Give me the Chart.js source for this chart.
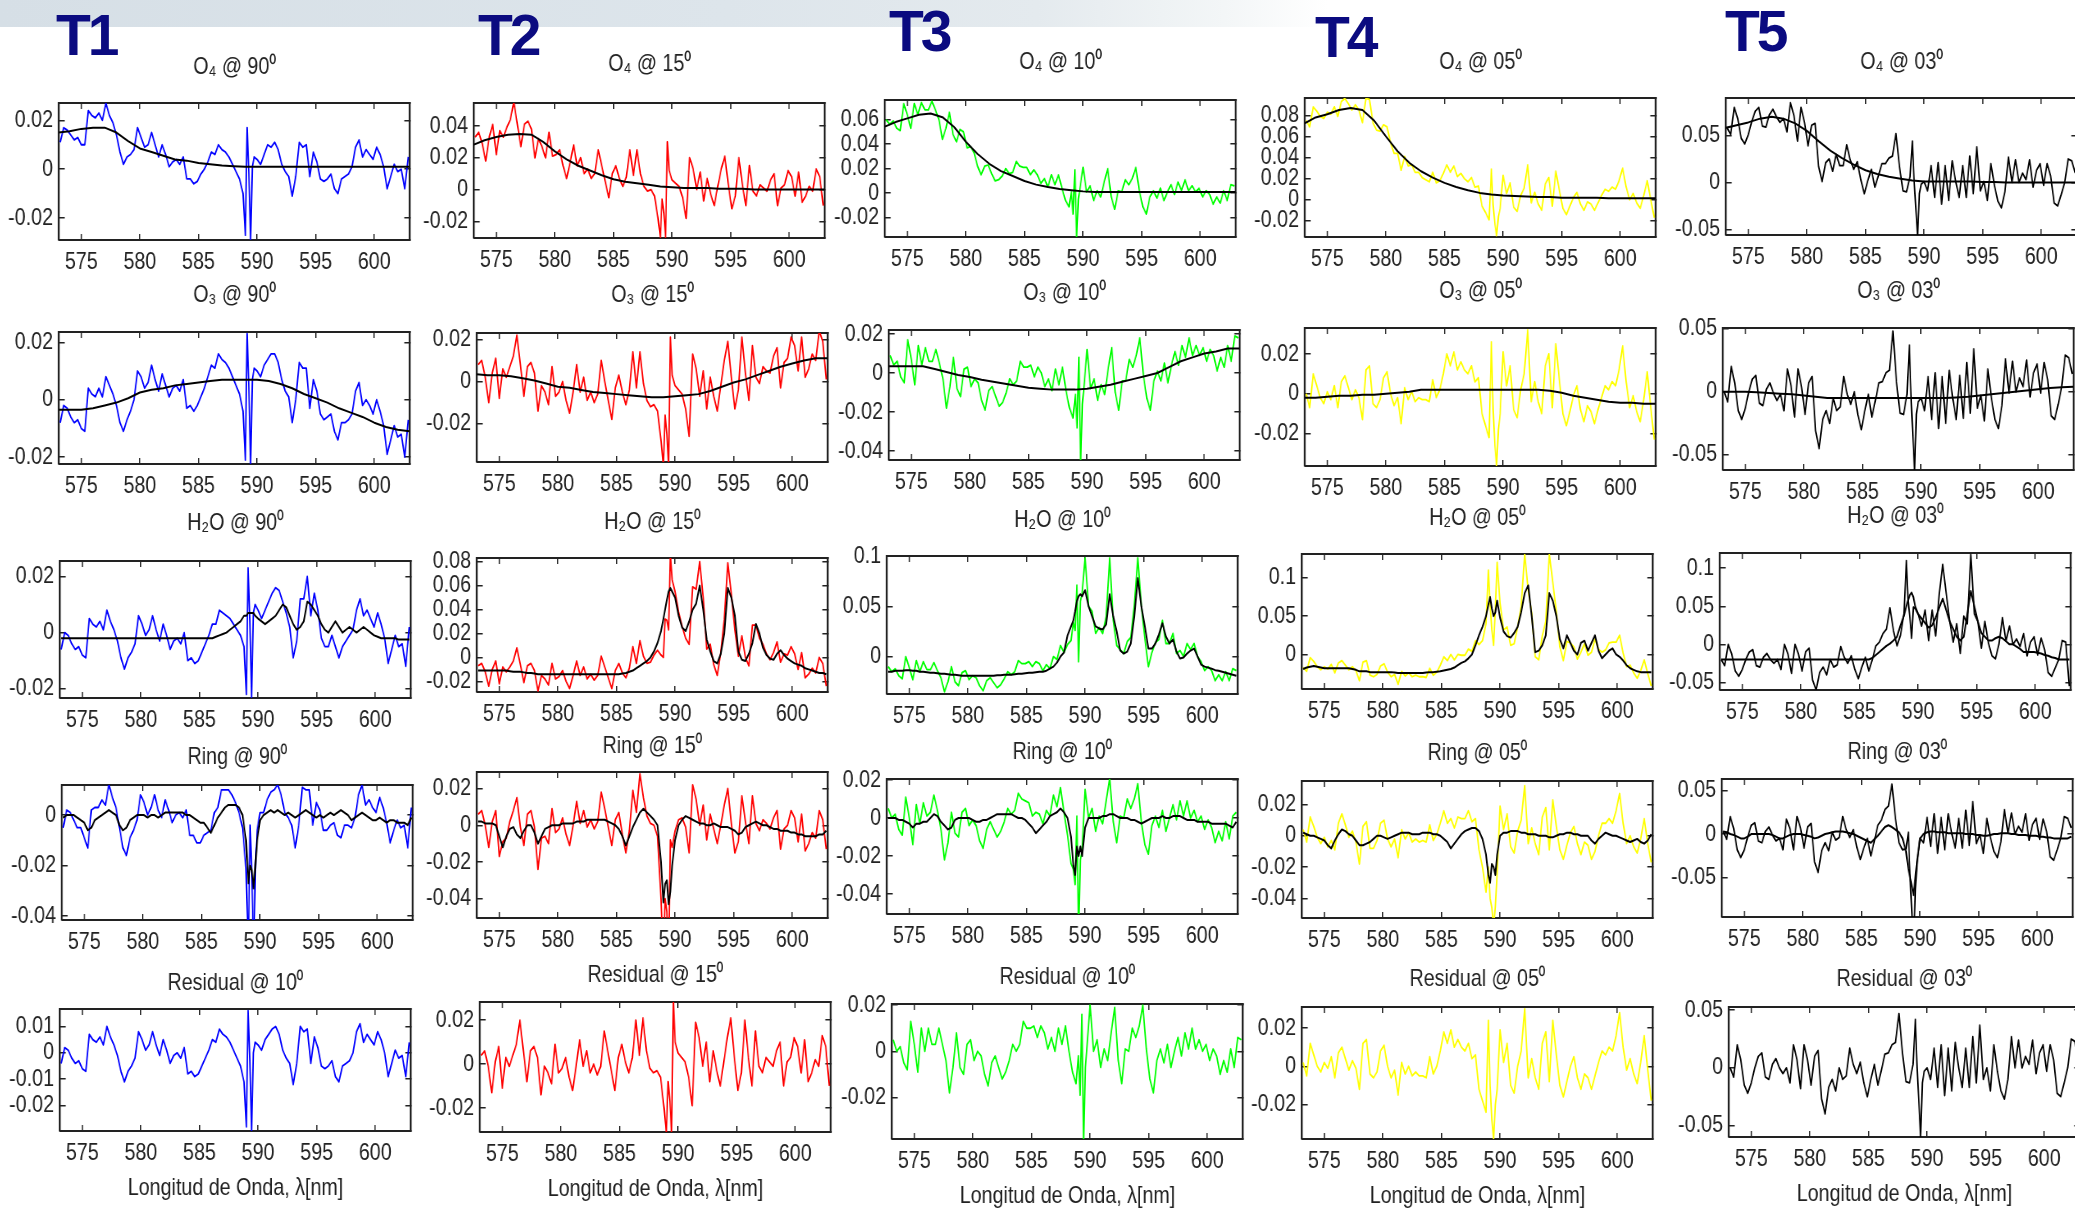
<!DOCTYPE html>
<html>
<head>
<meta charset="utf-8">
<script src="https://cdn.jsdelivr.net/npm/chart.js@4.4.1/dist/chart.umd.min.js"></script>
<style>
  html, body { margin: 0; padding: 0; background: #fff; }
  body { width: 2075px; height: 1209px; overflow: hidden; position: relative; }
  #band { position: absolute; left: 0; top: 0; width: 2075px; height: 27px;
    background: linear-gradient(90deg, #d6dfe6 0%, #dde5eb 35%, #e4eaee 50%, #f3f6f7 59%, #ffffff 64%); }
  .tag { position: absolute; font: bold 57px 'Liberation Sans', Arial, sans-serif; letter-spacing: -3px;
    color: #0b0b80; line-height: 57px; }
  canvas { position: absolute; transform-origin: 0 0; }
</style>
</head>
<body>
<div id="band"></div>
<div class="tag" style="left:56px;top:7px">T1</div>
<div class="tag" style="left:478px;top:7px">T2</div>
<div class="tag" style="left:889px;top:3px">T3</div>
<div class="tag" style="left:1315px;top:9px">T4</div>
<div class="tag" style="left:1725px;top:3px">T5</div>
<script>
// wavelength grid (nm) of the measured spectra, and of the smooth fits
const wl = [573.2,573.5,573.8,574.1,574.4,574.7,575.0,575.3,575.6,575.9,
  576.2,576.5,576.8,577.1,577.4,577.7,578.0,578.3,578.6,578.9,
  579.2,579.5,579.8,580.1,580.4,580.7,581.0,581.3,581.6,581.9,
  582.2,582.5,582.8,583.1,583.4,583.7,584.0,584.3,584.6,584.9,
  585.2,585.5,585.8,586.1,586.4,586.7,587.0,587.3,587.6,587.9,
  588.2,588.5,588.8,589.0,589.15,589.3,589.45,589.6,589.75,
  590.0,590.3,590.6,590.9,591.2,591.5,591.8,592.1,592.4,592.7,
  593.0,593.3,593.6,593.9,594.2,594.5,594.8,595.1,595.4,595.7,
  596.0,596.3,596.6,596.9,597.2,597.5,597.8,598.1,598.4,598.7,
  599.0,599.3,599.6,599.9,600.2,600.5,600.8,601.1,601.4,601.7,
  602.0,602.3,602.6,602.9];
const wlFit = [573,574,575,576,577,578,579,580,581,582,583,584,585,586,587,588,589,590,
  591,592,593,594,595,596,597,598,599,600,601,602,603];

const xTicks = [575, 580, 585, 590, 595, 600];
const xTickLabels = ['575', '580', '585', '590', '595', '600'];
// optical depth values are kept in units of 1e-3
const yTickValues = [-50, -40, -20, -10, 0, 10, 20, 40, 50, 60, 80, 100];
const yTickLabels = ['-0.05', '-0.04', '-0.02', '-0.01', '0', '0.01', '0.02', '0.04', '0.05', '0.06', '0.08', '0.1'];

/* T1 (90 deg) */
const t1Resid = [-4,2,1,-2,-4,-3,-6,-7,7,5,
  4,6,3,10,6,3,-1,-7,-11,-7,
  -5,-2,8,5,1,3,8,3,-1,5,
  1,-4,-1,0,-2,2,-8,-7,-9,-8,
  -5,-2,1,5,4,9,7,6,4,1,
  -2,-5,-11,-28,16,-3,-30,0,4,
  3,1,5,7,9,10,7,1,-2,-4,
  -12,-4,10,8,9,-4,6,2,-5,-6,
  -5,-3,-9,-11,-5,-4,-3,0,8,11,
  4,7,5,3,8,5,0,-9,-4,1,
  -2,-1,-9,4];
const t1O4 = [11,17,16,14,12,13,10,10,24,22,
  21,23,20,27,22,19,14,7,2,5,
  6,8,17,13,9,10,15,10,5,10,
  6,1,3,4,2,5,-4,-4,-6,-5,
  -2,0,3,7,6,10,8,7,5,2,
  -1,-4,-10,-27,17,-2,-29,1,5,
  4,2,6,10,9,11,8,2,-1,-3,
  -11,-3,11,9,10,-3,7,3,-4,-5,
  -4,-2,-8,-10,-4,-3,-2,1,9,12,
  5,8,6,4,9,6,1,-8,-3,2,
  -1,0,-8,5];
const t1O4Fit = [15,15.5,16.5,17,17,15,11.5,8.5,7,5.5,4,3.5,2.5,2,1.5,1.2,1,
  1,1,1,1,1,1,1,1,1,1,1,1,1,1];
const t1O3 = [-8,-2,-3,-6,-8,-7,-10,-11,4,2,
  1,4,1,8,5,2,-2,-8,-11,-7,
  -4,0,10,8,4,6,12,7,3,9,
  5,1,4,5,3,7,-3,-2,-4,-2,
  1,4,8,12,11,16,14,13,11,8,
  5,2,-4,-21,23,4,-23,7,11,
  10,8,12,14,16,16,13,7,3,1,
  -8,0,13,11,11,-3,7,3,-5,-7,
  -6,-5,-11,-14,-8,-8,-7,-5,3,6,
  -2,0,-2,-5,0,-4,-9,-19,-14,-9,
  -13,-12,-20,-7];
const t1O3Fit = [-3.5,-3.5,-3.5,-3,-2,-1,0.5,2.5,3.5,4,5,5.5,6,6.5,7,7,7,7,6.5,5.5,
  4,2,0.5,-1,-3,-4.5,-6,-8,-9.5,-10.5,-11];
const t1H2o = [-6,0,-1,-4,-6,-5,-8,-9,5,3,
  2,4,1,8,4,1,-3,-9,-13,-9,
  -7,-4,6,3,-1,1,6,1,-3,3,
  -1,-6,-3,-2,-4,0,-10,-9,-11,-10,
  -7,-4,-1,3,3,8,7,6,5,3,
  1,-1,-5,-22,23,4,-23,7,10,
  8,5,8,11,14,16,15,11,7,2,
  -9,-3,12,12,20,6,14,8,-2,-5,
  -5,-1,-5,-9,-5,-3,-1,1,8,12,
  6,8,5,2,7,3,-2,-11,-6,-1,
  -5,-4,-12,2];
const t1H2oFit = [-2,-2,-2,-2,-2,-2,-2,-2,-2,-2,
  -2,-2,-2,-2,-2,-2,-2,-2,-2,-2,
  -2,-2,-2,-2,-2,-2,-2,-2,-2,-2,
  -2,-2,-2,-2,-2,-2,-2,-2,-2,-2,
  -2,-2,-2,-2,-1.5,-1,-0.5,0,1,2,
  3,4,6,6,7,7,7,7,6,
  5,4,3,4,5,6,8,10,9,6,
  3,1,2,4,11,10,8,6,3,1,
  0,2,4,2,0,1,2,1,0,1,
  2,1,0,-1,-1.5,-2,-2,-2,-2,-2,
  -2.5,-2.5,-2.5,-2.5];
const t1Ring = [-5,2,1,-2,-5,-5,-9,-13,2,3,
  3,6,4,12,7,3,-5,-13,-16,-9,
  -6,-2,8,5,0,3,8,2,-1,6,
  2,-3,0,1,-1,2,-8,-8,-11,-11,
  -8,-7,-6,1,3,10,10,10,8,5,
  1,-5,-21,-55,-4,-25,-59,-20,-6,
  1,1,6,9,10,12,8,1,-1,-4,
  -13,-4,11,10,10,-4,5,2,-6,-6,
  -4,-3,-8,-9,-4,-4,-5,-1,8,12,
  4,6,3,1,7,3,-3,-11,-6,-2,
  -5,-4,-13,3];
const t1RingFit = [-1,0,0,0,-1,-2,-3,-6,-5,-2,
  -1,0,1,2,1,0,-4,-6,-5,-2,
  -1,0,0,0,-1,0,0,-1,0,1,
  1,1,1,1,1,0,0,-1,-2,-3,
  -3,-5,-7,-4,-1,1,3,4,4,4,
  3,0,-10,-27,-20,-22,-29,-20,-10,
  -2,0,1,2,1,2,1,0,1,0,
  -1,0,1,2,1,0,-1,0,-1,0,
  1,0,1,2,1,0,-2,-1,0,1,
  0,-1,-2,-2,-1,-2,-3,-2,-2,-3,
  -3,-3,-4,-1];

/* T2 (15 deg) */
const t2Resid = [4,6,-1,-13,1,8,-11,3,-1,4,
  9,20,6,-8,6,8,3,-14,-1,-4,
  -9,9,-4,-2,3,-6,-12,-1,11,-1,
  6,-4,0,-5,-1,15,6,-3,-12,3,
  9,1,-4,3,20,4,21,6,-2,-4,
  -3,-6,-20,-32,-8,-17,-32,28,10,
  5,3,1,-6,-19,19,12,-1,10,-8,
  6,-3,-10,1,12,21,3,-12,-4,20,
  3,-10,15,-1,-4,3,1,-1,6,10,
  -10,1,3,12,8,-4,11,-8,-4,2,
  -1,13,8,-10];
const t2O4 = [33,36,29,18,33,41,22,37,33,39,
  44,55,41,27,41,43,38,20,32,27,
  20,36,21,22,25,15,7,17,28,15,
  20,10,13,7,10,25,15,5,-5,10,
  15,7,2,8,25,9,25,10,2,-1,
  0,-4,-18,-30,-6,-15,-30,30,12,
  6,4,2,-5,-18,20,13,0,11,-7,
  7,-3,-10,2,13,21,3,-12,-4,20,
  3,-10,15,-1,-4,3,1,-1,6,10,
  -10,1,3,12,8,-4,11,-8,-4,2,
  -1,13,8,-10];
const t2O4Fit = [28,31,33,34.5,35,34.5,30,24,19,15,12,9,6.5,5,4,3,2,
  1.5,1,1,1,0.5,0.5,0.5,0,0,0,0,0,0,0];
const t2O3 = [8,10,2,-10,4,11,-8,6,2,7,
  12,22,8,-7,7,9,4,-14,-2,-5,
  -11,7,-7,-5,0,-9,-15,-5,8,-5,
  2,-9,-5,-10,-6,10,0,-9,-18,-3,
  3,-5,-11,-4,14,-3,14,-1,-9,-12,
  -11,-14,-28,-40,-16,-25,-40,21,3,
  -2,-4,-6,-13,-26,13,6,-7,5,-13,
  2,-7,-14,-2,10,19,2,-13,-4,21,
  4,-9,17,2,-1,7,5,4,12,16,
  -3,9,11,21,17,5,21,2,6,13,
  10,24,19,1];
const t2O3Fit = [3.5,3,3,2.5,1.5,0.5,-1,-2.5,-3,-4,-5,-5.5,-6,-6.5,-7,-7.5,-7.5,-7,-6.5,-6,
  -4.5,-2.5,-0.5,1,3,5,7,8.5,10,11,11];
const t2H2o = [-7,-5,-12,-24,-10,-3,-22,-8,-12,-8,
  -3,8,-6,-21,-7,-5,-11,-28,-15,-18,
  -23,-5,-18,-16,-11,-20,-26,-15,-3,-15,
  -8,-18,-14,-19,-15,1,-8,-17,-26,-11,
  -5,-13,-17,-9,9,-5,14,1,-5,-4,
  2,6,2,0,32,31,23,86,65,
  55,38,26,16,11,59,57,80,50,7,
  11,-6,-15,4,32,79,53,23,1,18,
  0,-7,27,27,16,11,3,-2,4,13,
  -4,3,2,9,3,-10,4,-17,-14,-9,
  -13,0,-5,-24];
const t2H2oFit = [-11,-11,-11,-11,-11,-11,-11,-11,-11,-11.5,
  -12,-12,-12,-12.5,-13,-13,-13.5,-14,-14,-14,
  -14,-14,-14,-14,-14,-14,-14,-14,-14,-14,
  -14,-14,-14,-14,-14,-14,-14,-14,-14,-14,
  -14,-13.5,-13,-12,-11,-9,-7,-5,-3,0,
  5,12,22,32,40,48,55,58,55,
  50,35,25,22,30,40,45,60,40,15,
  5,-3,-5,3,20,58,50,35,5,-2,
  -3,3,12,28,20,8,2,-1,-2,3,
  6,2,-1,-3,-5,-6,-7,-9,-10,-11,
  -12,-13,-13,-14];
const t2Ring = [6,8,0,-12,2,8,-17,-9,-7,2,
  8,15,-1,-11,6,8,-1,-24,-7,-6,
  -10,9,-4,-2,4,-5,-11,0,13,1,
  8,-1,3,-2,2,18,9,-1,-11,3,
  7,-5,-15,-3,19,7,28,15,5,1,
  0,-6,-40,-74,-40,-47,-75,-8,-12,
  -3,3,4,-1,-15,22,14,0,11,-8,
  6,-2,-10,0,11,20,1,-15,-9,16,
  2,-10,16,1,-3,3,1,-2,4,8,
  -13,-2,0,8,4,-9,6,-14,-10,-4,
  -7,8,3,-13];
const t2RingFit = [2,2,1,1,1,0,-6,-12,-6,-2,
  -1,-5,-7,-3,0,0,-4,-10,-6,-2,
  -1,0,0,0,1,1,1,1,2,2,
  2,3,3,3,3,3,3,2,1,0,
  -2,-6,-11,-6,-1,3,7,9,7,5,
  3,0,-20,-42,-32,-30,-43,-36,-22,
  -8,0,3,5,4,3,2,1,1,0,
  0,1,0,-1,-1,-1,-2,-3,-5,-4,
  -1,0,1,2,1,0,0,-1,-2,-2,
  -3,-3,-3,-4,-4,-5,-5,-6,-6,-6,
  -6,-5,-5,-3];

/* T3 (10 deg) */
const t3Resid = [5,0,2,-5,-8,13,3,-9,10,0,
  10,3,3,10,3,-4,-18,-7,8,-7,
  -10,3,5,-4,0,-2,-10,-15,-5,-2,
  -7,-12,-9,-4,3,0,3,13,10,10,
  11,6,11,8,1,6,0,10,3,11,
  0,-9,-14,-2,-19,16,-40,-7,3,
  20,0,5,-7,1,-4,8,19,-4,-14,
  1,0,10,6,11,20,1,-12,-18,-4,
  1,-5,3,-7,0,6,-2,8,1,10,
  1,5,0,3,-4,1,-2,-10,-4,-9,
  1,-7,6,5];
const t3O4 = [60,56,59,53,51,73,64,53,73,64,
  74,68,68,75,68,60,44,53,66,48,
  42,52,50,37,38,33,22,15,22,23,
  16,10,11,14,20,16,17,26,22,21,
  21,15,19,15,8,12,5,15,7,15,
  4,-6,-11,1,-17,19,-38,-5,5,
  21,1,6,-6,2,-3,9,20,-3,-13,
  2,1,11,7,12,21,2,-11,-17,-3,
  2,-4,4,-6,1,7,-1,9,2,11,
  2,6,1,4,-3,2,-1,-9,-3,-8,
  2,-6,7,6];
const t3O4Fit = [54,58,61,64,65,62,54,42,32,24,18,14,10,7,5,3.5,2.5,1.5,
  1,1,1,1,1,1,1,1,1,1,1,1,1];
const t3O3 = [9,4,6,-2,-5,17,7,-6,14,4,
  13,6,6,12,5,-3,-18,-7,8,-8,
  -12,2,3,-7,-3,-5,-14,-19,-9,-7,
  -12,-17,-15,-10,-3,-6,-4,6,3,3,
  4,-2,3,0,-7,-3,-9,2,-6,3,
  -9,-18,-23,-11,-28,8,-49,-16,-6,
  12,-8,-3,-14,-6,-11,2,13,-10,-19,
  -4,-4,7,3,9,18,-1,-13,-19,-4,
  1,-4,5,-5,4,11,4,14,8,18,
  9,14,9,13,6,12,9,1,8,3,
  14,6,19,18];
const t3O3Fit = [3.5,3.5,3.5,3.5,2,0.5,-1,-2,-3.5,-4.5,-5.5,-6.5,-7.5,-8,-8.5,-8.5,-8.5,-8,-7,-6,
  -4.5,-3,-1.5,0,3,6,8,10,11,12.5,12.5];
const t3H2o = [-10,-15,-12,-19,-22,0,-11,-23,-4,-15,
  -5,-13,-13,-6,-14,-21,-35,-25,-10,-25,
  -29,-16,-14,-23,-19,-21,-29,-34,-24,-21,
  -26,-31,-28,-22,-15,-18,-15,-4,-7,-7,
  -5,-10,-5,-7,-14,-8,-12,0,-3,11,
  4,12,16,34,26,71,-5,55,63,
  98,50,45,23,29,23,40,98,36,11,
  7,3,15,19,51,98,51,18,-10,4,
  14,17,36,13,13,23,3,6,0,13,
  7,13,0,-5,-14,-10,-14,-24,-18,-24,
  -15,-24,-12,-14];
const t3H2oFit = [-15,-15,-14,-14,-14,-13.5,-13.5,-14,-14,-15,
  -15,-15.5,-16,-16,-16.5,-17,-17,-17.5,-18,-18,
  -18.5,-19,-19,-19,-19,-19,-19,-19,-19,-19,
  -19,-18.5,-18.5,-18,-18,-18,-17.5,-17,-17,-16.5,
  -16,-16,-15.5,-15,-15,-14,-12,-10,-6,0,
  4,21,30,36,45,55,60,62,60,
  66,50,40,30,28,27,32,62,40,25,
  6,3,5,13,40,78,50,30,8,8,
  13,22,33,20,13,17,5,-2,-1,3,
  6,8,0,-8,-10,-11,-12,-13.5,-14,-15,
  -16,-17,-18,-19];
const t3Ring = [5,0,2,-6,-9,11,0,-14,7,-3,
  8,1,3,12,4,-6,-22,-13,3,-8,
  -10,3,5,-4,-1,-4,-12,-16,-6,-2,
  -6,-10,-7,-2,5,2,4,13,10,9,
  8,1,3,2,-3,4,1,12,6,16,
  3,-9,-24,-27,-35,1,-60,-22,-17,
  15,0,5,-7,1,-3,9,21,-2,-13,
  1,0,10,5,10,18,-2,-14,-19,-4,
  1,-5,4,-7,0,7,-1,9,1,9,
  0,4,-2,1,-6,-1,-5,-13,-7,-12,
  -2,-11,1,3];
const t3RingFit = [0,0,0,-1,-1,-2,-3,-5,-3,-3,
  -2,-2,0,2,1,-2,-4,-6,-5,-1,
  0,0,0,0,-1,-2,-2,-1,-1,0,
  1,2,2,2,2,2,1,0,0,-1,
  -3,-5,-8,-6,-4,-2,1,2,3,5,
  3,0,-10,-25,-30,-15,-20,-15,-20,
  -5,0,0,0,0,1,1,2,2,1,
  0,0,0,-1,-1,-2,-3,-2,-1,0,
  0,0,1,0,0,1,1,1,0,-1,
  -1,-1,-2,-2,-2,-2,-3,-3,-3,-3,
  -3,-4,-5,-2];

/* T4 (05 deg) */
const t4Resid = [2,-5,12,6,0,-3,2,-1,5,-6,
  7,10,4,-2,3,-1,-12,12,14,-4,
  -6,-3,8,11,0,-6,-2,-15,2,-4,
  0,-5,-3,-5,-5,-6,5,-4,0,8,
  18,12,19,10,14,10,8,12,4,6,
  -12,-18,-24,24,-10,-28,-38,-20,-12,
  19,2,12,-10,-14,0,8,30,-6,4,
  -6,-12,12,18,-8,24,6,-10,-16,-8,
  0,5,-6,-12,-4,-6,-12,-5,2,8,
  6,10,8,16,28,10,-2,4,-4,-9,
  2,16,-2,-18];
const t4O4 = [75,69,88,84,79,77,83,81,88,79,
  93,96,91,85,90,85,73,96,95,73,
  66,65,71,69,54,44,44,28,41,32,
  33,26,26,21,19,17,26,16,18,25,
  33,26,32,22,25,20,17,21,12,13,
  -6,-12,-19,29,-5,-23,-34,-16,-8,
  23,6,16,-7,-11,4,11,33,-3,7,
  -4,-10,15,21,-6,27,9,-8,-14,-6,
  2,7,-4,-10,-2,-4,-10,-3,4,10,
  8,12,10,18,30,12,0,6,-3,-8,
  4,18,0,-17];
const t4O4Fit = [72,78,81,85,87,85,75,60,46,35,27,21,16,12,9,6.5,5,4,3.5,3,
  2.5,2.5,2,2,2,2,1.5,1.5,1.5,1.5,1.5];
const t4O3 = [0,-7,10,4,-2,-5,1,-3,4,-7,
  6,9,3,-3,2,-2,-13,12,14,-5,
  -7,-3,8,11,0,-6,-2,-15,3,-3,
  1,-4,-2,-3,-3,-4,7,-2,2,10,
  20,14,21,12,16,12,10,14,6,8,
  -10,-16,-22,26,-8,-26,-36,-18,-10,
  21,4,14,-8,-12,2,10,32,-4,6,
  -4,-10,14,20,-7,25,7,-10,-16,-9,
  -1,4,-8,-14,-6,-9,-15,-8,-2,4,
  2,6,4,12,24,6,-7,-1,-9,-14,
  -3,11,-7,-23];
const t4O3Fit = [-2,-2,-1.5,-1,-1,-0.5,-0.5,0,0.5,1,2,2,2,2,2,2,2,2,2,2,
  2,1.5,0.5,-1,-2,-3,-4,-4.5,-4.5,-5,-5];
const t4H2o = [-17,-22,-4,-9,-16,-20,-16,-19,-13,-24,
  -11,-8,-14,-20,-16,-21,-34,-10,-8,-27,
  -29,-26,-15,-12,-23,-29,-26,-39,-22,-28,
  -24,-29,-27,-29,-29,-30,-18,-27,-23,-14,
  -3,-8,0,-7,0,-1,-1,7,4,18,
  13,18,40,110,65,32,12,60,120,
  67,32,36,12,14,36,63,131,84,54,
  -3,-7,24,43,131,94,56,10,-8,17,
  15,10,-6,3,14,-1,3,20,7,3,
  6,15,16,16,25,2,-16,-14,-24,-31,
  -21,-7,-25,-41];
const t4H2oFit = [-19,-17,-16,-15,-16,-17,-18,-18,-18,-18,
  -18,-18,-18,-18,-19,-20,-22,-22,-22,-23,
  -23,-23,-23,-23,-23,-23,-23.5,-24,-24,-24,
  -24,-24,-24,-24,-24,-23.5,-23,-23,-22.5,-22,
  -21,-20,-19,-17,-14,-11,-9,-5,0,12,
  25,36,50,65,75,60,50,55,70,
  48,30,24,22,28,36,55,80,90,50,
  3,5,12,25,80,70,50,20,8,25,
  15,5,0,15,18,5,15,25,5,-5,
  0,5,8,0,-3,-8,-14,-18,-20,-22,
  -23,-23,-23,-23];
const t4Ring = [4,-4,12,6,-1,-5,-1,-7,-3,-9,
  8,14,7,-1,3,-4,-18,6,9,-8,
  -8,-3,8,10,-2,-7,-2,-14,4,-2,
  2,-4,-2,-4,-3,-4,7,-3,1,8,
  16,8,11,5,12,11,11,16,9,11,
  -9,-20,-36,-20,-40,-46,-58,-45,-24,
  19,4,14,-7,-11,3,10,32,-5,5,
  -5,-12,12,18,-9,23,6,-9,-15,-6,
  2,6,-5,-12,-4,-6,-15,-10,0,8,
  8,11,8,16,27,8,-5,0,-7,-11,
  -2,11,-5,-17];
const t4RingFit = [2,1,0,0,-1,-2,-3,-6,-8,-3,
  1,4,3,1,0,-3,-6,-6,-5,-4,
  -2,0,0,-1,-2,-1,0,1,2,2,
  2,1,1,1,2,2,2,1,1,0,
  -2,-4,-8,-5,-2,1,3,4,5,5,
  3,-2,-12,-25,-30,-18,-20,-25,-12,
  0,2,2,3,3,3,2,2,1,1,
  1,0,0,0,-1,-1,0,1,1,2,
  2,1,1,0,0,0,-3,-5,-2,0,
  2,1,0,0,-1,-2,-3,-4,-3,-2,
  -4,-5,-3,1];

/* T5 (03 deg) */
const t5Resid = [0,-8,20,7,-15,-22,-13,0,10,13,
  -8,-10,3,8,0,-5,0,-13,20,7,
  -18,20,7,-15,10,15,-27,-40,-17,-10,
  -20,0,-10,-7,17,3,-5,5,-13,-25,
  -10,3,-15,-2,12,13,20,22,47,13,
  -12,-13,3,42,0,-30,-60,-13,-3,
  0,-10,17,-17,20,-24,17,-20,22,0,
  -17,17,-17,27,-13,37,-10,0,-20,20,
  -3,-20,-27,-10,27,0,24,0,10,3,
  24,-5,13,20,-3,20,7,-22,-25,-13,
  0,25,23,10];
const t5O4 = [58,51,80,68,47,41,51,65,76,80,
  60,59,72,78,70,64,68,54,85,71,
  44,80,64,39,61,63,17,1,21,25,
  12,30,18,18,40,24,14,22,3,-12,
  2,14,-5,7,20,20,26,28,52,17,
  -9,-10,6,44,2,-28,-58,-12,-2,
  1,-9,18,-16,21,-23,18,-19,23,1,
  -16,18,-16,28,-12,38,-9,1,-19,20,
  -3,-20,-27,-10,27,0,24,0,10,3,
  24,-5,13,20,-3,20,7,-22,-25,-13,
  0,25,23,10];
const t5O4Fit = [58,61,64,68,70,68,63,55,44,34,26,19,13,9,6,4,2,
  1,1,1,1,1,0.5,0.5,0,0,0,0,0,0,0];
const t5O3 = [0,-8,20,7,-15,-22,-13,0,10,13,
  -9,-11,2,7,-1,-7,-2,-15,18,5,
  -20,18,4,-18,7,12,-31,-45,-22,-15,
  -25,-5,-15,-12,12,-2,-10,0,-18,-30,
  -15,-2,-20,-7,7,8,15,17,48,8,
  -17,-18,-2,37,-5,-35,-65,-18,-8,
  -5,-15,12,-22,15,-29,12,-25,17,-5,
  -22,13,-21,23,-17,34,-13,-3,-23,18,
  -5,-22,-29,-11,26,-1,24,0,11,4,
  25,-4,15,22,-1,23,10,-19,-22,-10,
  4,29,27,14];
const t5O3Fit = [0,0,0,-0.5,-1,-1.5,-2,-3,-4,-5,
  -5,-5,-5,-5,-5,-5,-5,-5,-5,-5,
  -4.5,-4,-3,-2,-1,0,1,2,3,3.5,4];
const t5H2o = [-20,-28,0,-13,-35,-42,-33,-20,-10,-7,
  -28,-30,-17,-12,-20,-25,-20,-33,0,-13,
  -38,0,-13,-35,-10,-5,-47,-60,-37,-30,
  -40,-20,-30,-27,-3,-17,-25,-15,-33,-45,
  -30,-17,-35,-20,-2,3,14,20,48,18,
  -2,12,41,110,58,35,8,49,47,
  40,24,45,5,45,11,65,105,67,30,
  3,27,-12,37,27,118,40,30,-5,30,
  2,-15,-19,0,35,4,24,0,7,-3,
  14,-15,3,10,-14,8,-7,-37,-42,-31,
  -20,5,3,-55];
const t5H2oFit = [-20,-20,-20,-20,-20,-20,-20,-20,-20,-20,
  -20,-20,-20,-20,-20,-20,-20,-20,-20,-20,
  -20,-20,-20,-20,-20,-20,-20,-20,-20,-20,
  -20,-20,-20,-20,-20,-20,-20,-20,-20,-20,
  -20,-20,-20,-18,-14,-10,-6,-2,1,5,
  10,25,38,50,58,65,68,62,50,
  40,34,28,22,25,35,48,60,45,30,
  20,10,5,10,40,70,50,30,15,10,
  5,5,8,10,8,4,0,0,-3,-6,
  -10,-10,-10,-10,-11,-12,-14,-15,-17,-18,
  -20,-20,-20,-20];
const t5Ring = [3,-6,20,6,-18,-27,-18,-3,10,13,
  -8,-10,3,8,-1,-8,-5,-18,17,6,
  -18,20,7,-16,8,12,-32,-44,-19,-10,
  -19,2,-7,-4,20,5,-4,5,-15,-29,
  -16,-5,-25,-8,10,16,28,32,57,18,
  -10,-18,-17,2,-50,-90,-130,-63,-33,
  -5,-10,19,-14,23,-22,19,-18,23,1,
  -16,18,-16,27,-13,37,-11,-1,-22,18,
  -4,-20,-27,-9,28,1,24,0,9,2,
  23,-7,11,18,-6,17,3,-26,-30,-18,
  -5,20,18,7];
const t5RingFit = [3,2,0,-1,-3,-5,-5,-3,0,0,
  0,0,0,0,-1,-3,-5,-5,-3,-1,
  0,0,0,-1,-2,-3,-5,-4,-2,0,
  1,2,3,3,3,2,1,0,-2,-4,
  -6,-8,-10,-6,-2,3,8,10,8,5,
  2,-5,-20,-40,-50,-60,-70,-50,-30,
  -5,0,2,3,3,2,2,2,1,1,
  1,1,1,0,0,0,-1,-1,-2,-2,
  -1,0,0,1,1,1,0,0,-1,-1,
  -1,-2,-2,-2,-3,-3,-4,-4,-5,-5,
  -5,-5,-5,-3];

const titles = [
  ['O₄ @ 90⁰', 'O₃ @ 90⁰', 'H₂O @ 90⁰', 'Ring @ 90⁰', 'Residual @ 10⁰'],
  ['O₄ @ 15⁰', 'O₃ @ 15⁰', 'H₂O @ 15⁰', 'Ring @ 15⁰', 'Residual @ 15⁰'],
  ['O₄ @ 10⁰', 'O₃ @ 10⁰', 'H₂O @ 10⁰', 'Ring @ 10⁰', 'Residual @ 10⁰'],
  ['O₄ @ 05⁰', 'O₃ @ 05⁰', 'H₂O @ 05⁰', 'Ring @ 05⁰', 'Residual @ 05⁰'],
  ['O₄ @ 03⁰', 'O₃ @ 03⁰', 'H₂O @ 03⁰', 'Ring @ 03⁰', 'Residual @ 03⁰']
];
const measured = [
  [t1O4, t1O3, t1H2o, t1Ring, t1Resid],
  [t2O4, t2O3, t2H2o, t2Ring, t2Resid],
  [t3O4, t3O3, t3H2o, t3Ring, t3Resid],
  [t4O4, t4O3, t4H2o, t4Ring, t4Resid],
  [t5O4, t5O3, t5H2o, t5Ring, t5Resid]
];
const fitted = [
  [t1O4Fit, t1O3Fit, t1H2oFit, t1RingFit, null],
  [t2O4Fit, t2O3Fit, t2H2oFit, t2RingFit, null],
  [t3O4Fit, t3O3Fit, t3H2oFit, t3RingFit, null],
  [t4O4Fit, t4O3Fit, t4H2oFit, t4RingFit, null],
  [t5O4Fit, t5O3Fit, t5H2oFit, t5RingFit, null]
];

// layout of the 5x5 grid (page pixels) and axis limits per panel
const colors = ['#0000ff', '#ff0000', '#00ff00', '#ffff00', '#000000'];
const boxLeft = [[59,59,60,62,60],[474,477,477,477,480],[885,889,887,887,892],[1305,1305,1302,1302,1302],[1726,1723,1720,1722,1729]];
const boxTop = [[103,332,561,785,1009],[103,333,558,772,1002],[100,330,556,779,1004],[98,328,554,781,1007],[98,328,553,779,1007]];
const boxBottom = [[240,464,698,920,1131],[238,462,692,918,1132],[237,460,694,914,1139],[237,466,689,918,1139],[235,470,690,917,1137]];
const titleMid = [[67,295,523,757,983],[64,295,522,746,975],[62,293,520,752,977],[62,291,518,753,979],[62,291,516,752,979]];
const yLimits = [
  [[-29,27.1],[-22.4,23.6],[-23.3,25.5],[-41.5,11.9],[-29.6,16.6]],
  [[-30.4,54.4],[-38.2,23],[-28.9,83.1],[-50.5,29],[-31,28.3]],
  [[-35.7,76],[-44.5,22],[-37.2,100],[-50.5,20.5],[-38,20.5]],
  [[-35.3,96.4],[-36.3,33],[-45,131],[-52.5,35],[-38,31]],
  [[-56,90],[-62,50.5],[-60,120],[-95,63],[-60,52.8]]
];
const yTicks = [
  [[-20,0,20],[-20,0,20],[-20,0,20],[-40,-20,0],[-20,-10,0,10]],
  [[-20,0,20,40],[-20,0,20],[-20,0,20,40,60,80],[-40,-20,0,20],[-20,0,20]],
  [[-20,0,20,40,60],[-40,-20,0,20],[0,50,100],[-40,-20,0,20],[-20,0,20]],
  [[-20,0,20,40,60,80],[-20,0,20],[0,50,100],[-40,-20,0,20],[-20,0,20]],
  [[-50,0,50],[-50,0,50],[-50,0,50,100],[-50,0,50],[-50,0,50]]
];

// the original figure is horizontally squeezed: draw wide, then scale the canvas in x
const SX = 0.82;
const FONT = "'Liberation Sans', Arial, sans-serif";
const INK = '#222';
const BOX_W = 351, Y_AXIS_W = 75, PAD_L = 5, PAD_R = 15;
const tickText = {};
yTickValues.forEach((v, i) => { tickText[v] = yTickLabels[i]; });

function pts(xs, ys) { return ys.map((y, i) => ({ x: xs[i], y: y })); }

function frameAxis(pos, min, max, ticks, tl, bw) {
  return {
    type: 'linear', position: pos, min: min, max: max,
    afterBuildTicks: s => { s.ticks = ticks.map(v => ({ value: v })); },
    grid: { drawOnChartArea: false, drawTicks: true, tickLength: tl, color: INK, lineWidth: 1.5 },
    border: { display: true, color: INK, width: bw }
  };
}

for (let c = 0; c < 5; c++) {
  for (let r = 0; r < 5; r++) {
    const l = boxLeft[c][r], t = boxTop[c][r], b = boxBottom[c][r], ty = titleMid[c][r];
    const last = r === 4;
    const xH = last ? 69 : 40;
    const top = ty - 20;
    const padL = PAD_L / SX, yW = Y_AXIS_W / SX, boxW = BOX_W / SX;
    const cw = Math.ceil((PAD_L + Y_AXIS_W + BOX_W + PAD_R) / SX);
    const cv = document.createElement('canvas');
    cv.width = cw;
    cv.height = (b - top) + xH + 4;
    cv.style.left = (l - PAD_L - Y_AXIS_W) + 'px';
    cv.style.top = top + 'px';
    cv.style.transform = 'scaleX(' + SX + ')';
    document.body.appendChild(cv);

    const datasets = [];
    if (fitted[c][r]) {
      const fx = fitted[c][r].length === wlFit.length ? wlFit : wl;
      datasets.push({ data: pts(fx, fitted[c][r]), borderColor: '#000', borderWidth: 2,
        pointRadius: 0, borderJoinStyle: 'round' });
    }
    datasets.push({ data: pts(wl, measured[c][r]), borderColor: colors[c], borderWidth: 1.8,
      pointRadius: 0, borderJoinStyle: 'round' });

    const [yMin, yMax] = yLimits[c][r];
    const yt = yTicks[c][r];
    new Chart(cv.getContext('2d'), {
      type: 'line',
      data: { datasets: datasets },
      options: {
        responsive: false, animation: false, events: [],
        layout: { padding: { left: padL, right: cw - padL - yW - boxW, top: 0, bottom: 4 } },
        plugins: {
          legend: { display: false },
          tooltip: { enabled: false },
          title: { display: true, text: titles[c][r], fullSize: false, color: INK,
            font: { family: FONT, size: 24, weight: 'normal', lineHeight: 1 },
            padding: { top: 8, bottom: t - ty - 12 } }
        },
        scales: {
          x: Object.assign(frameAxis('bottom', 573.1, 603.05, xTicks, -6, 2), {
            ticks: { autoSkip: false, maxRotation: 0, padding: 14, color: INK,
              font: { family: FONT, size: 24 },
              callback: v => xTickLabels[xTicks.indexOf(v)] },
            title: { display: last, text: 'Longitud de Onda, λ[nm]', color: INK, padding: 0,
              font: { family: FONT, size: 24, lineHeight: 1 } },
            afterFit: s => { s.height = xH; }
          }),
          x2: Object.assign(frameAxis('top', 573.1, 603.05, xTicks, -6, 2), {
            ticks: { display: false },
            afterFit: s => { s.height = 0; }
          }),
          y: Object.assign(frameAxis('left', yMin, yMax, yt, -7, 2.4), {
            ticks: { autoSkip: false, padding: 14.3, color: INK, font: { family: FONT, size: 24 },
              callback: v => tickText[v] },
            afterFit: s => { s.width = yW; }
          }),
          y2: Object.assign(frameAxis('right', yMin, yMax, yt, -7, 2.4), {
            ticks: { display: false },
            afterFit: s => { s.width = 0; }
          })
        }
      }
    });
  }
}
</script>
</body>
</html>
